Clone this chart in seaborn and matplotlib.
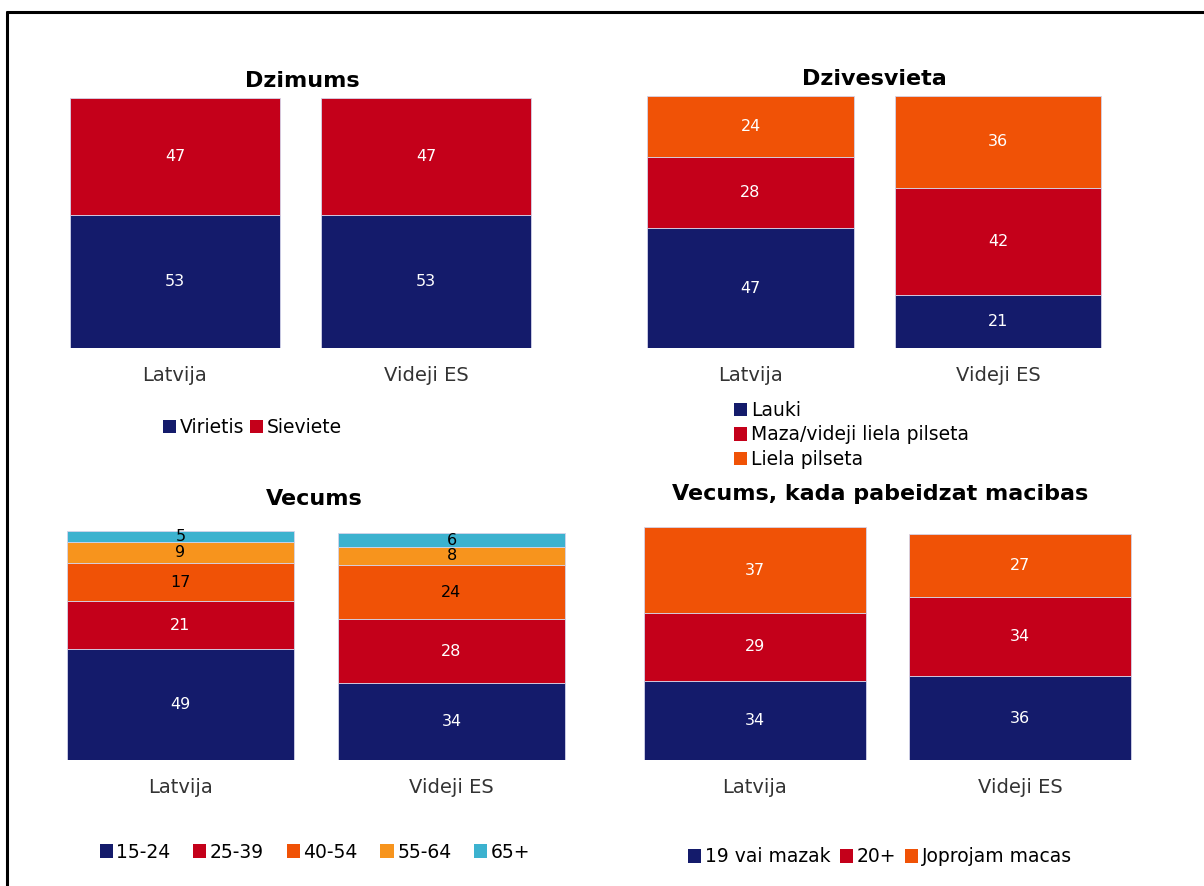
import matplotlib
matplotlib.use('Agg')
import matplotlib.pyplot as plt
import seaborn as sns
import numpy as np
from matplotlib.patches import Patch
from matplotlib.lines import Line2D

sns.set_style('white')
plt.rcParams['font.family'] = ['DejaVu Sans']
plt.rcParams['text.color'] = 'black'

# ---------------- data ----------------
valstis = ['Latvija', 'Videji ES']

dzimums_labels = ['Virietis', 'Sieviete']
dzimums_virietis = [53, 53]
dzimums_sieviete = [47, 47]

dzives_labels = ['Lauki', 'Maza/videji liela pilseta', 'Liela pilseta']
dzives_lauki = [47, 21]
dzives_maza = [28, 42]
dzives_liela = [24, 36]

vecums_labels = ['15-24', '25-39', '40-54', '55-64', '65+']
vecums_15_24 = [49, 34]
vecums_25_39 = [21, 28]
vecums_40_54 = [17, 24]
vecums_55_64 = [9, 8]
vecums_65 = [5, 6]

macibas_labels = ['19 vai mazak', '20+', 'Joprojam macas']
macibas_19 = [34, 36]
macibas_20 = [29, 34]
macibas_joprojam = [37, 27]

# ---------------- style ----------------
NAVY = '#141b6b'
RED = '#c4001a'
ORANGE = '#f05206'
LORANGE = '#f7941d'
CYAN = '#3cb2cf'

W, H = 1204, 886
fig = plt.figure(figsize=(W / 100, H / 100), dpi=100)


def panel(c0, c1, top, bottom, series, colors, text_colors):
    d = c1 - c0
    left = c0 - d / 2
    ax = fig.add_axes([left / W, 1 - bottom / H, 2 * d / W, (bottom - top) / H])
    base = np.zeros(len(valstis))
    for vals, col, tc in zip(series, colors, text_colors):
        sns.barplot(x=valstis, y=vals, bottom=base, color=col, saturation=1,
                    width=0.835, edgecolor='#d4d4ea', linewidth=0.6, ax=ax)
        ax.bar_label(ax.containers[-1], label_type='center', color=tc, fontsize=11.5)
        base = base + np.array(vals)
    ax.set_xlim(-0.5, 1.5)
    ax.set_ylim(0, base.max())
    ax.set_yticks([])
    ax.set_ylabel('')
    ax.tick_params(axis='x', length=0, pad=13, labelsize=14, labelcolor='#333333')
    sns.despine(ax=ax, left=True, bottom=True)
    return ax


def legend(labels, colors, x, y, loc, ncol, colsp):
    handles = [Patch(facecolor=c, edgecolor='none') for c in colors]
    fig.legend(handles, labels, loc=loc, bbox_to_anchor=(x / W, 1 - y / H), ncol=ncol,
               frameon=False, fontsize=13.5, handlelength=0.7, handleheight=0.7,
               handletextpad=0.2, columnspacing=colsp, labelspacing=0.28, borderpad=0,
               borderaxespad=0)


# Dzimums
panel(175, 426, 98, 348, [dzimums_virietis, dzimums_sieviete],
      [NAVY, RED], ['white', 'white'])
fig.text(302 / W, 1 - 87 / H, 'Dzimums', ha='center', va='baseline',
         fontsize=16, fontweight='bold')
legend(dzimums_labels, [NAVY, RED], 252, 428, 'center', 2, 0.3)

# Dzivesvieta
panel(750.5, 998, 96, 348, [dzives_lauki, dzives_maza, dzives_liela],
      [NAVY, RED, ORANGE], ['white', 'white', 'white'])
fig.text(874 / W, 1 - 85 / H, 'Dzivesvieta', ha='center', va='baseline',
         fontsize=16, fontweight='bold')
legend(dzives_labels, [NAVY, RED, ORANGE], 734, 435, 'center left', 1, 0.3)

# Vecums
panel(180.5, 451.5, 531, 760,
      [vecums_15_24, vecums_25_39, vecums_40_54, vecums_55_64, vecums_65],
      [NAVY, RED, ORANGE, LORANGE, CYAN],
      ['white', 'white', 'black', 'black', 'black'])
fig.text(314 / W, 1 - 505 / H, 'Vecums', ha='center', va='baseline',
         fontsize=16, fontweight='bold')
legend(vecums_labels, [NAVY, RED, ORANGE, LORANGE, CYAN], 315, 852, 'center', 5, 1.2)

# Vecums, kada pabeidzat macibas
panel(755, 1020, 527, 760, [macibas_19, macibas_20, macibas_joprojam],
      [NAVY, RED, ORANGE], ['white', 'white', 'white'])
fig.text(880 / W, 1 - 500 / H, 'Vecums, kada pabeidzat macibas', ha='center',
         va='baseline', fontsize=16, fontweight='bold')
legend(macibas_labels, [NAVY, RED, ORANGE], 880, 857, 'center', 3, 0.5)

# frame
fig.add_artist(Line2D([7 / W, 1], [1 - 12 / H, 1 - 12 / H], color='black', lw=2.2))
fig.add_artist(Line2D([7 / W, 7 / W], [0, 1 - 12 / H], color='black', lw=2.2))

fig.savefig('out.png', dpi=100)
